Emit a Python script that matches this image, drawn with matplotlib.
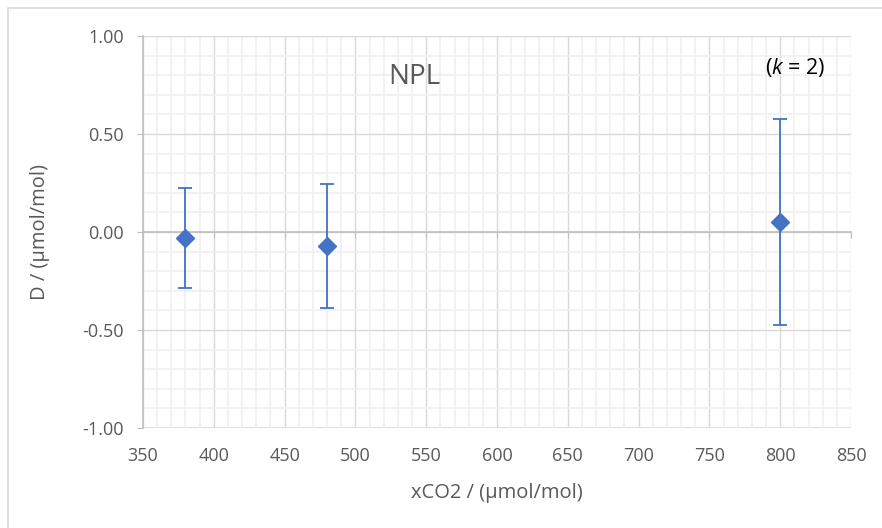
import matplotlib
matplotlib.use('Agg')
import matplotlib.pyplot as plt
from matplotlib.patches import Rectangle
from matplotlib.ticker import MultipleLocator, FormatStrFormatter

plt.rcParams['font.family'] = ['Open Sans', 'DejaVu Sans']
plt.rcParams['mathtext.fontset'] = 'custom'
plt.rcParams['mathtext.it'] = 'Open Sans:italic'
plt.rcParams['mathtext.rm'] = 'Open Sans'

# Data
xco2 = [380, 480, 800]
deviation = [-0.03, -0.07, 0.05]
uncertainty = [0.255, 0.317, 0.525]

x_ticks = [350, 400, 450, 500, 550, 600, 650, 700, 750, 800, 850]
y_ticks = [-1.00, -0.50, 0.00, 0.50, 1.00]

title_text = "NPL"
x_label = "xCO2 / (\u00b5mol/mol)"
y_label = "D / (\u00b5mol/mol)"

blue = '#4472C4'
text_grey = '#595959'

fig = plt.figure(figsize=(8.82, 5.28), dpi=100)
ax = fig.add_axes([143 / 882, 1 - 428 / 528, (851 - 143) / 882, (428 - 36) / 528])

# grid: minor then major
ax.set_xlim(x_ticks[0], x_ticks[-1])
ax.set_ylim(y_ticks[0], y_ticks[-1])
ax.xaxis.set_major_locator(MultipleLocator(50))
ax.xaxis.set_minor_locator(MultipleLocator(10))
ax.yaxis.set_major_locator(MultipleLocator(0.5))
ax.yaxis.set_minor_locator(MultipleLocator(0.1))
ax.yaxis.set_major_formatter(FormatStrFormatter('%.2f'))
ax.grid(which='minor', color='#F0F0F0', linewidth=1.2, zorder=0)
ax.grid(which='major', color='#D9D9D9', linewidth=1.0, zorder=0)
ax.set_axisbelow(True)

for side in ['top', 'right']:
    ax.spines[side].set_visible(False)
ax.spines['left'].set_color('#BFBFBF')
ax.spines['left'].set_linewidth(1.2)
# horizontal axis crosses at zero, like Excel
ax.spines['bottom'].set_position(('data', 0))
ax.spines['bottom'].set_color('#BFBFBF')
ax.spines['bottom'].set_linewidth(1.2)

ax.tick_params(axis='x', which='major', direction='out', length=4, color='#BFBFBF',
               labelbottom=False)
ax.tick_params(axis='y', which='major', direction='out', length=4, color='#BFBFBF',
               labelsize=13, labelcolor=text_grey, pad=10)
ax.tick_params(which='minor', length=0)

# x tick labels at the bottom of the plot area
sec = ax.secondary_xaxis(0)
sec.set_xticks(x_ticks)
sec.tick_params(length=0, labelsize=13, labelcolor=text_grey, pad=14)
sec.spines['bottom'].set_visible(False)
ax.axhline(y_ticks[0], color='#D9D9D9', linewidth=1.2, zorder=0)

ax.errorbar(xco2, deviation, yerr=uncertainty, fmt='D', color=blue, ecolor=blue,
            markersize=9, elinewidth=1.3, capsize=5, capthick=1.3, zorder=3)

ax.text(0.383, 0.895, title_text, transform=ax.transAxes, ha='center', va='center',
        fontsize=20, color=text_grey)
ax.text(0.921, 0.92, r"($\it{k}$ = 2)", transform=ax.transAxes, ha='center', va='center',
        fontsize=15.5, color='black')

fig.text(497 / 882, 1 - 493 / 528, x_label, ha='center', va='center', fontsize=14.5,
         color=text_grey)
fig.text(40 / 882, 1 - 232 / 528, y_label, ha='center', va='center', rotation=90,
         fontsize=14.5, color=text_grey)

# chart border
fig.patches.append(Rectangle((8 / 882, -0.1), 1.2, 1 - 8 / 528 + 0.1, transform=fig.transFigure,
                             fill=False, edgecolor='#D9D9D9', linewidth=1.2))

fig.savefig('out.png', dpi=100)
